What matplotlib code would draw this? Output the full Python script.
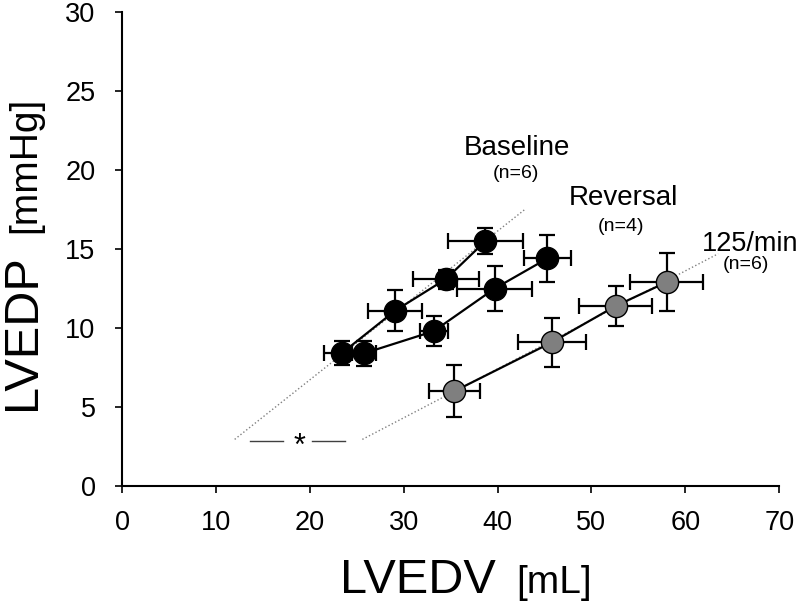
import matplotlib
matplotlib.use('Agg')
import matplotlib.pyplot as plt

plt.rcParams['font.family'] = ['Liberation Sans', 'DejaVu Sans']

# ---- data (LVEDV [mL], LVEDP [mmHg]) ----
base_x = [23.4, 29.1, 34.5, 38.7]
base_y = [8.4, 11.1, 13.1, 15.5]
base_xerr = [1.9, 2.9, 3.55, 4.0]
base_yerr = [0.75, 1.3, 0.6, 0.8]

rev_x = [25.8, 33.2, 39.7, 45.3]
rev_y = [8.4, 9.8, 12.5, 14.4]
rev_xerr = [1.3, 1.5, 4.0, 2.5]
rev_yerr = [0.8, 0.95, 1.45, 1.5]

pace_x = [35.4, 45.8, 52.6, 58.0]
pace_y = [6.0, 9.1, 11.4, 12.9]
pace_xerr = [2.7, 3.6, 3.9, 3.85]
pace_yerr = [1.65, 1.55, 1.25, 1.85]

# dotted regression lines (end points)
base_fit_x = [12.0, 42.9]
base_fit_y = [2.95, 17.5]
pace_fit_x = [25.6, 63.5]
pace_fit_y = [2.95, 14.7]

fig = plt.figure(figsize=(8, 6.02), dpi=100)
ax = fig.add_axes([0.1525, 0.1927, 0.8215, 0.7873])

ax.plot(base_fit_x, base_fit_y, ls=':', color='#808080', lw=1)
ax.plot(pace_fit_x, pace_fit_y, ls=':', color='#808080', lw=1)

def draw(x, y, xe, ye, fc):
    ax.errorbar(x, y, xerr=xe, yerr=ye, fmt='none', ecolor='black',
                elinewidth=1.6, capsize=6, capthick=1.6, zorder=2)
    ax.plot(x, y, '-o', color='black', lw=1.6, ms=16, mfc=fc, mec='black',
            mew=1, zorder=3)

draw(pace_x, pace_y, pace_xerr, pace_yerr, '#7f7f7f')
draw(rev_x, rev_y, rev_xerr, rev_yerr, 'black')
draw(base_x, base_y, base_xerr, base_yerr, 'black')

# significance marker between the two fits
ax.plot([13.6, 17.1], [2.87, 2.87], color='#404040', lw=1)
ax.plot([20.2, 23.8], [2.87, 2.87], color='#404040', lw=1)
ax.text(18.9, 2.5, '*', fontsize=22, ha='center', va='center')

# group labels
ax.text(42.1, 21.4, 'Baseline', fontsize=20, ha='center', va='center')
ax.text(42.0, 19.75, '(n=6)', fontsize=14, ha='center', va='center')
ax.text(53.4, 18.2, 'Reversal', fontsize=20, ha='center', va='center')
ax.text(53.1, 16.45, '(n=4)', fontsize=14, ha='center', va='center')
ax.text(66.9, 15.3, '125/min', fontsize=19.5, ha='center', va='center')
ax.text(66.5, 14.0, '(n=6)', fontsize=14, ha='center', va='center')

ax.set_xlim(0, 70)
ax.set_ylim(0, 30)
ax.set_xticks(range(0, 71, 10))
ax.set_yticks(range(0, 31, 5))
ax.tick_params(labelsize=19.5, direction='out', length=5, width=1.2)
ax.tick_params(axis='x', pad=12)
ax.tick_params(axis='y', pad=14)
for s in ['top', 'right']:
    ax.spines[s].set_visible(False)
for s in ['left', 'bottom']:
    ax.spines[s].set_linewidth(1.5)

# axis titles with mixed font sizes
fig.text(0.425, 0.015, 'LVEDV', fontsize=35, ha='left', va='baseline')
fig.text(0.645, 0.015, '[mL]', fontsize=28, ha='left', va='baseline')
fig.text(0.044, 0.319, 'LVEDP', fontsize=35, rotation=90,
         rotation_mode='anchor', ha='left', va='baseline')
fig.text(0.044, 0.613, '[mmHg]', fontsize=28, rotation=90,
         rotation_mode='anchor', ha='left', va='baseline')

fig.savefig('out.png', dpi=100)
